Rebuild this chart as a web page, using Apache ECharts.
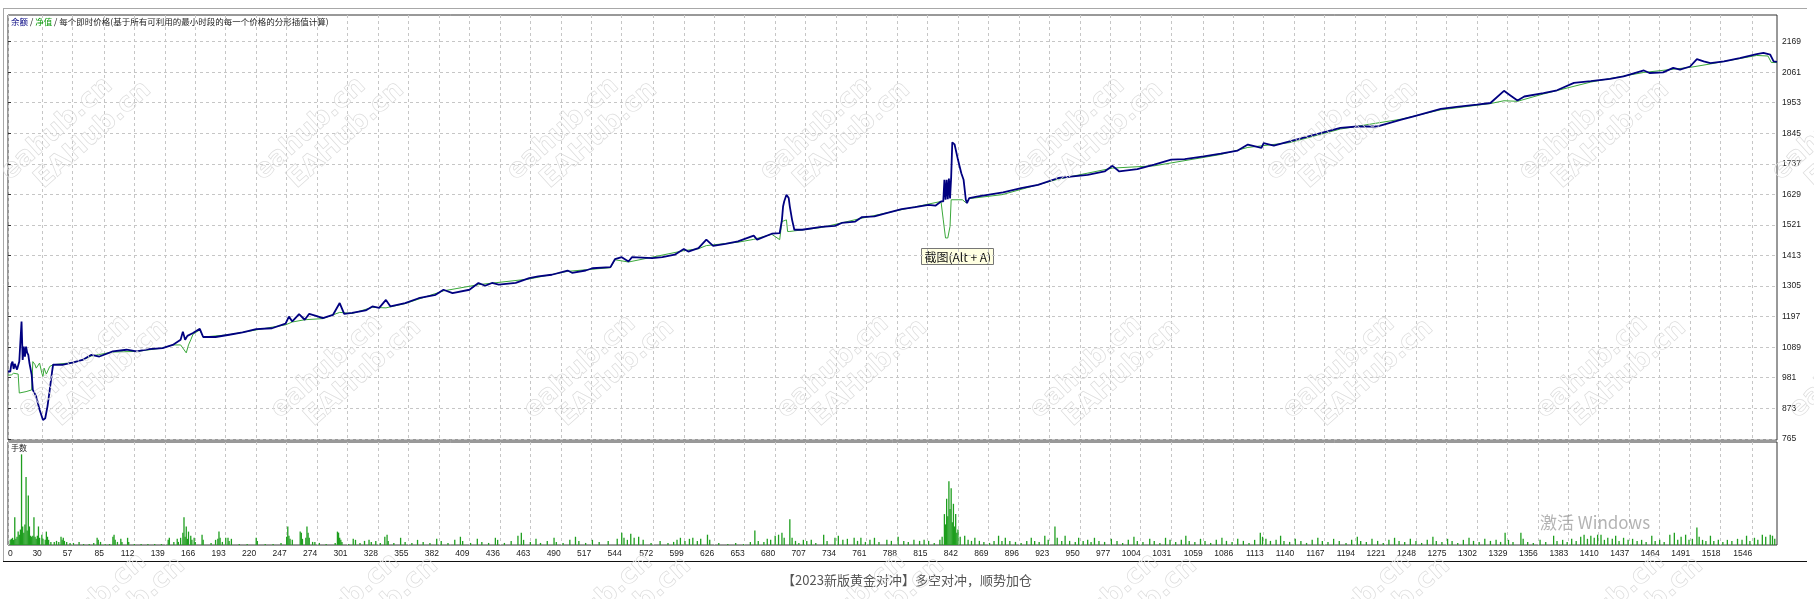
<!DOCTYPE html>
<html><head><meta charset="utf-8">
<script src="https://cdn.jsdelivr.net/npm/echarts@6/dist/echarts.min.js"></script>
<style>html,body{margin:0;padding:0;background:#fff}#c{width:1814px;height:599px}</style>
</head><body><div id="c"></div>
<script>
// ---- tick labels ----
const xTicks = [0,30,57,85,112,139,166,193,220,247,274,301,328,355,382,409,436,463,490,517,544,572,599,626,653,680,707,734,761,788,815,842,869,896,923,950,977,1004,1031,1059,1086,1113,1140,1167,1194,1221,1248,1275,1302,1329,1356,1383,1410,1437,1464,1491,1518,1546];
const yTicks = [765,873,981,1089,1197,1305,1413,1521,1629,1737,1845,1953,2061,2169];

// ---- balance (余额): [trade no, value] ----
const balancePoints = [[0,1003],[2,1003],[3,1030],[4,1038],[5,1012],[6,1030],[7,1033],[8,1010],[9,1015],[10,1038],[11,1040],[12,1180],[13,1044],[14,1091],[15,1056],[16,1091],[17,1070],[18,1062],[19,1033],[21,991],[22,938],[25,915],[28,868],[31,832],[33,838],[35,880],[37,938],[39,1000],[40,1027],[49,1027],[58,1035],[66,1044],[74,1062],[81,1056],[93,1074],[105,1080],[114,1074],[125,1082],[137,1086],[146,1097],[153,1115],[155,1144],[157,1115],[159,1129],[164,1139],[170,1154],[173,1125],[184,1125],[196,1133],[208,1141],[220,1153],[234,1156],[246,1172],[249,1197],[252,1180],[258,1206],[263,1186],[267,1207],[273,1200],[279,1192],[288,1203],[294,1245],[298,1207],[305,1210],[317,1219],[323,1233],[329,1228],[335,1256],[339,1233],[352,1245],[364,1262],[379,1274],[386,1292],[394,1280],[409,1292],[417,1316],[423,1306],[429,1316],[435,1310],[450,1316],[462,1333],[470,1339],[482,1345],[496,1360],[500,1352],[512,1360],[518,1368],[534,1372],[538,1400],[544,1407],[550,1392],[553,1407],[571,1404],[580,1407],[591,1416],[599,1436],[603,1427],[612,1439],[619,1469],[625,1447],[636,1454],[647,1463],[661,1483],[664,1469],[677,1490],[684,1492],[686,1539],[687,1586],[688,1604],[690,1628],[692,1616],[693,1586],[695,1539],[697,1504],[704,1504],[721,1514],[733,1518],[739,1528],[751,1533],[757,1549],[768,1551],[777,1561],[792,1577],[804,1584],[816,1592],[822,1589],[827,1604],[829,1604],[830,1681],[831,1610],[832,1681],[833,1612],[834,1685],[835,1615],[836,1690],[837,1813],[839,1806],[842,1752],[845,1704],[847,1681],[849,1610],[850,1598],[852,1616],[860,1622],[882,1636],[898,1651],[913,1663],[931,1687],[942,1692],[957,1698],[972,1710],[979,1730],[985,1710],[1001,1718],[1016,1734],[1031,1752],[1043,1754],[1060,1763],[1075,1773],[1090,1784],[1099,1805],[1111,1793],[1113,1810],[1122,1801],[1136,1816],[1181,1864],[1196,1869],[1214,1869],[1235,1893],[1246,1905],[1270,1931],[1284,1938],[1302,1946],[1314,1952],[1326,1995],[1332,1978],[1338,1961],[1344,1975],[1361,1987],[1373,1997],[1388,2023],[1403,2029],[1420,2037],[1432,2046],[1450,2067],[1455,2058],[1467,2060],[1476,2076],[1482,2070],[1491,2081],[1497,2107],[1503,2099],[1509,2093],[1521,2099],[1535,2111],[1550,2125],[1556,2129],[1562,2123],[1565,2099],[1568,2097]];

// ---- equity (净值): [trade no, value] ----
const equityPoints = [[0,990],[3,991],[5,997],[9,994],[10,927],[16,932],[21,938],[22,1038],[24,1027],[25,1015],[28,1033],[30,997],[31,985],[32,1015],[34,994],[37,1021],[40,1027],[58,1035],[66,1044],[74,1058],[93,1072],[114,1074],[137,1086],[146,1097],[153,1097],[158,1069],[160,1097],[162,1115],[164,1135],[170,1150],[173,1125],[196,1133],[220,1150],[246,1168],[252,1178],[263,1186],[279,1190],[294,1212],[305,1208],[323,1230],[335,1228],[352,1243],[386,1288],[417,1310],[462,1330],[496,1357],[534,1370],[538,1398],[550,1390],[599,1430],[612,1437],[619,1448],[647,1460],[661,1470],[677,1488],[684,1469],[686,1533],[690,1539],[691,1498],[693,1498],[697,1500],[721,1512],[757,1545],[792,1575],[827,1604],[829,1539],[831,1475],[833,1475],[835,1516],[836,1610],[846,1610],[849,1600],[852,1614],[881,1628],[931,1683],[979,1722],[1016,1730],[1075,1770],[1099,1795],[1136,1812],[1181,1860],[1235,1895],[1270,1928],[1314,1950],[1326,1960],[1338,1958],[1361,1984],[1403,2026],[1450,2060],[1491,2078],[1509,2090],[1550,2120],[1560,2118],[1563,2095],[1568,2095]];

// ---- lots (手数): [trade no, lots, relative] ----
const lotBars = [[2,0.05],[3,0.06],[4,0.07],[5,0.05],[6,0.27],[7,0.06],[8,0.08],[9,0.13],[10,0.1],[11,0.15],[12,0.88],[13,0.18],[14,0.12],[15,0.2],[16,0.66],[17,0.14],[18,0.48],[19,0.18],[20,0.09],[21,0.08],[22,0.09],[23,0.27],[24,0.08],[25,0.06],[26,0.09],[27,0.18],[28,0.07],[30,0.1],[31,0.06],[33,0.05],[34,0.13],[35,0.08],[36,0.05],[38,0.03],[41,0.03],[43,0.04],[45,0.03],[47,0.08],[48,0.05],[49,0.07],[50,0.04],[52,0.03],[55,0.02],[58,0.02],[63,0.03],[67,0.01],[72,0.01],[76,0.02],[79,0.07],[80,0.05],[82,0.03],[86,0.01],[90,0.01],[93,0.08],[94,0.1],[95,0.05],[97,0.03],[100,0.06],[101,0.03],[106,0.07],[107,0.03],[112,0.01],[118,0.01],[124,0.01],[130,0.01],[136,0.01],[142,0.05],[143,0.07],[147,0.03],[150,0.06],[151,0.03],[153,0.07],[155,0.12],[156,0.27],[157,0.08],[158,0.18],[159,0.06],[160,0.13],[162,0.09],[163,0.05],[165,0.07],[166,0.03],[172,0.1],[173,0.05],[180,0.02],[184,0.05],[186,0.06],[187,0.13],[188,0.07],[190,0.03],[193,0.07],[195,0.07],[196,0.04],[198,0.06],[205,0.01],[212,0.01],[220,0.07],[221,0.04],[228,0.01],[235,0.01],[242,0.02],[247,0.08],[248,0.18],[249,0.09],[250,0.06],[252,0.05],[259,0.13],[260,0.12],[261,0.06],[264,0.07],[265,0.18],[266,0.12],[267,0.07],[270,0.03],[272,0.03],[276,0.02],[282,0.01],[290,0.02],[292,0.13],[293,0.12],[294,0.07],[295,0.05],[296,0.03],[302,0.01],[306,0.06],[308,0.05],[312,0.02],[316,0.04],[320,0.05],[322,0.03],[326,0.04],[330,0.02],[334,0.08],[336,0.1],[337,0.04],[342,0.02],[348,0.07],[352,0.03],[358,0.02],[363,0.05],[368,0.03],[374,0.02],[380,0.06],[384,0.04],[390,0.02],[396,0.05],[401,0.08],[403,0.04],[410,0.02],[416,0.06],[420,0.03],[426,0.02],[432,0.07],[434,0.05],[440,0.02],[446,0.04],[452,0.09],[455,0.12],[457,0.05],[463,0.03],[468,0.06],[472,0.02],[478,0.04],[484,0.07],[486,0.03],[492,0.02],[498,0.05],[503,0.08],[506,0.04],[512,0.02],[518,0.05],[524,0.03],[532,0.04],[540,0.06],[544,0.12],[546,0.07],[549,0.05],[552,0.11],[555,0.07],[559,0.08],[563,0.05],[570,0.02],[578,0.04],[585,0.02],[590,0.03],[593,0.05],[596,0.07],[600,0.04],[604,0.06],[607,0.07],[611,0.04],[614,0.06],[620,0.1],[622,0.05],[630,0.02],[638,0.01],[645,0.02],[652,0.01],[658,0.03],[662,0.14],[665,0.04],[670,0.03],[673,0.06],[676,0.05],[680,0.09],[683,0.1],[686,0.12],[688,0.07],[693,0.25],[695,0.07],[698,0.04],[701,0.02],[705,0.05],[708,0.04],[712,0.05],[716,0.02],[723,0.1],[726,0.04],[733,0.07],[736,0.09],[740,0.05],[744,0.06],[750,0.07],[753,0.04],[756,0.07],[760,0.03],[764,0.05],[768,0.07],[772,0.03],[779,0.05],[783,0.04],[789,0.08],[794,0.04],[798,0.03],[803,0.05],[808,0.04],[812,0.05],[816,0.04],[821,0.02],[826,0.05],[828,0.08],[830,0.3],[831,0.2],[832,0.45],[833,0.28],[834,0.62],[835,0.35],[836,0.55],[837,0.22],[838,0.4],[839,0.18],[840,0.3],[841,0.12],[842,0.15],[844,0.08],[848,0.09],[851,0.05],[854,0.04],[857,0.07],[861,0.04],[865,0.03],[870,0.02],[874,0.04],[878,0.09],[881,0.04],[884,0.07],[888,0.04],[893,0.03],[898,0.02],[903,0.04],[907,0.07],[910,0.04],[914,0.03],[919,0.09],[922,0.05],[928,0.18],[930,0.07],[934,0.04],[937,0.09],[941,0.04],[946,0.03],[949,0.07],[953,0.04],[957,0.05],[960,0.03],[963,0.07],[967,0.04],[972,0.03],[978,0.06],[983,0.04],[988,0.02],[993,0.05],[998,0.08],[1001,0.04],[1006,0.03],[1012,0.06],[1016,0.04],[1021,0.02],[1026,0.07],[1030,0.05],[1035,0.03],[1040,0.05],[1044,0.09],[1047,0.04],[1052,0.03],[1057,0.06],[1061,0.04],[1066,0.02],[1071,0.05],[1076,0.07],[1080,0.04],[1085,0.03],[1090,0.06],[1095,0.04],[1100,0.02],[1105,0.05],[1110,0.12],[1112,0.08],[1115,0.06],[1119,0.04],[1124,0.05],[1128,0.09],[1131,0.04],[1136,0.03],[1141,0.06],[1146,0.04],[1151,0.02],[1156,0.05],[1161,0.07],[1165,0.04],[1170,0.03],[1175,0.06],[1180,0.04],[1186,0.02],[1191,0.05],[1196,0.08],[1199,0.04],[1204,0.03],[1209,0.06],[1214,0.04],[1219,0.02],[1224,0.05],[1229,0.07],[1233,0.04],[1238,0.03],[1243,0.06],[1248,0.04],[1253,0.02],[1258,0.05],[1263,0.08],[1266,0.04],[1271,0.03],[1276,0.06],[1280,0.04],[1285,0.02],[1290,0.05],[1295,0.07],[1299,0.04],[1304,0.03],[1309,0.06],[1314,0.04],[1319,0.05],[1323,0.03],[1327,0.12],[1330,0.05],[1334,0.03],[1341,0.12],[1343,0.06],[1347,0.03],[1352,0.02],[1358,0.05],[1363,0.03],[1370,0.09],[1373,0.04],[1378,0.05],[1382,0.03],[1386,0.06],[1390,0.04],[1394,0.08],[1397,0.1],[1400,0.06],[1403,0.09],[1406,0.07],[1409,0.1],[1412,0.1],[1415,0.05],[1418,0.07],[1422,0.06],[1425,0.09],[1428,0.04],[1432,0.07],[1436,0.05],[1440,0.06],[1444,0.04],[1448,0.05],[1452,0.03],[1457,0.09],[1460,0.04],[1464,0.05],[1468,0.03],[1473,0.1],[1477,0.12],[1480,0.05],[1483,0.08],[1487,0.1],[1490,0.05],[1493,0.06],[1497,0.17],[1499,0.08],[1502,0.05],[1505,0.04],[1509,0.09],[1512,0.04],[1516,0.05],[1520,0.03],[1524,0.05],[1528,0.04],[1533,0.06],[1537,0.05],[1541,0.09],[1544,0.04],[1548,0.07],[1551,0.05],[1555,0.1],[1558,0.08],[1562,0.1],[1564,0.09],[1566,0.06]];

const legendText = '{a|余额} / {b|净值} / 每个即时价格(基于所有可利用的最小时段的每一个价格的分形插值计算)';
const panelLabel = '手数';
const caption = '【2023新版黄金对冲】多空对冲，顺势加仓';
const tipText = '截图(Alt + A)';
const osText = '激活 Windows';
const marks = ['eahub.cn', 'EAHub.cn'];

const CJK = 'Noto Sans CJK SC';
const NUM = 'Liberation Sans';
const gridLine = { show: true, lineStyle: { color: '#c6c6c6', type: [3, 3], width: 1 } };
const numFmt = v => String(v);

// watermark decoration
const wm = [];
for (let r = 0; r < 3; r++) {
  for (let c = 0; c < 8; c++) {
    const bx = 93 + r * 17 + 253 * c, by = 135 + 238 * r;
    wm.push({ type: 'text', x: bx - 36, y: by - 6, rotation: 42 * Math.PI / 180, z: 50, silent: true,
      style: { text: marks[0], fill: 'rgba(255,255,255,0)', stroke: '#dcdcdc', lineWidth: 0.7,
        font: 'bold 27px "DejaVu Sans"', textAlign: 'center', textVerticalAlign: 'middle' } });
    wm.push({ type: 'text', x: bx, y: by, rotation: 42 * Math.PI / 180, z: 50, silent: true,
      style: { text: marks[1], fill: 'rgba(255,255,255,0)', stroke: '#dcdcdc', lineWidth: 0.7,
        font: 'bold 27px "DejaVu Sans"', textAlign: 'center', textVerticalAlign: 'middle' } });
  }
}

const chart = echarts.init(document.getElementById('c'), null, { renderer: 'canvas' });
chart.setOption({
  animation: false,
  backgroundColor: '#ffffff',
  title: [
    { text: legendText, left: 11, top: 18, padding: 0,
      textStyle: { fontSize: 8.5, fontFamily: CJK, fontWeight: 'normal', color: '#222',
        rich: { a: { color: '#000080', fontSize: 8.5, fontFamily: CJK }, b: { color: '#0a9a0a', fontSize: 8.5, fontFamily: CJK } } } },
    { text: panelLabel, left: 11, top: 444, padding: 0,
      textStyle: { fontSize: 8, fontFamily: CJK, fontWeight: 'normal', color: '#222' } },
    { text: caption, left: 'center', top: 574, padding: 0,
      textStyle: { fontSize: 13, fontFamily: CJK, fontWeight: 'normal', color: '#555' } }
  ],
  grid: [
    { left: 8, top: 15, width: 1769, height: 425, show: true, borderColor: '#333', borderWidth: 1, backgroundColor: '#fff', containLabel: false, outerBoundsMode: 'none' },
    { left: 8, top: 442, width: 1769, height: 103, show: true, borderColor: '#333', borderWidth: 1, backgroundColor: '#fff', containLabel: false, outerBoundsMode: 'none' }
  ],
  xAxis: [
    { gridIndex: 0, type: 'value', min: 0, max: 1568,
      axisLine: { show: false }, axisTick: { show: false, customValues: xTicks },
      axisLabel: { show: false, customValues: xTicks }, splitLine: gridLine },
    { gridIndex: 1, type: 'value', min: 0, max: 1568,
      axisLine: { show: false }, axisTick: { show: false, customValues: xTicks },
      axisLabel: { show: true, customValues: xTicks, formatter: numFmt, align: 'right', alignMinLabel: 'left',
        margin: 4, fontSize: 8.5, fontFamily: NUM, color: '#222' },
      splitLine: gridLine }
  ],
  yAxis: [
    { gridIndex: 0, type: 'value', position: 'right', min: 761, max: 2263,
      axisLine: { show: false },
      axisTick: { show: true, customValues: yTicks, length: 3, lineStyle: { color: '#333' } },
      axisLabel: { customValues: yTicks, formatter: numFmt, margin: 5, fontSize: 8.5, fontFamily: NUM, color: '#222' },
      splitLine: gridLine },
    { gridIndex: 1, type: 'value', min: 0, max: 1, show: false }
  ],
  series: [
    { name: '净值', type: 'line', xAxisIndex: 0, yAxisIndex: 0, data: equityPoints, symbol: 'none',
      lineStyle: { color: '#3aa83a', width: 1 }, z: 2 },
    { name: '余额', type: 'line', xAxisIndex: 0, yAxisIndex: 0, data: balancePoints, symbol: 'none',
      lineStyle: { color: '#000080', width: 1.8 }, z: 3 },
    { name: '手数', type: 'bar', xAxisIndex: 1, yAxisIndex: 1, data: lotBars, barWidth: 1.3,
      itemStyle: { color: '#1e9e1e' } }
  ],
  graphic: [
    { type: 'line', silent: true, shape: { x1: 3, y1: 8.5, x2: 1807, y2: 8.5 }, style: { stroke: '#a8a8a8', lineWidth: 1 } },
    { type: 'line', silent: true, shape: { x1: 3.5, y1: 8, x2: 3.5, y2: 561 }, style: { stroke: '#a8a8a8', lineWidth: 1 } },
    { type: 'line', silent: true, shape: { x1: 3, y1: 561.5, x2: 1807, y2: 561.5 }, style: { stroke: '#111', lineWidth: 1 } },
    { type: 'group', x: 921.5, y: 248.5, z: 60, children: [
      { type: 'rect', shape: { x: 0, y: 0, width: 72, height: 16 }, style: { fill: '#ffffe1', stroke: '#767676', lineWidth: 1 } },
      { type: 'text', x: 3, y: 8.5, style: { text: tipText, font: '12px "Noto Sans CJK SC"', fill: '#111', textVerticalAlign: 'middle' } }
    ] },
    { type: 'text', x: 1540, y: 523, z: 55, silent: true,
      style: { text: osText, font: '17px "Noto Sans CJK SC"', fill: 'rgba(128,128,128,0.6)', textVerticalAlign: 'middle' } }
  ].concat(wm)
});
</script>
</body></html>
